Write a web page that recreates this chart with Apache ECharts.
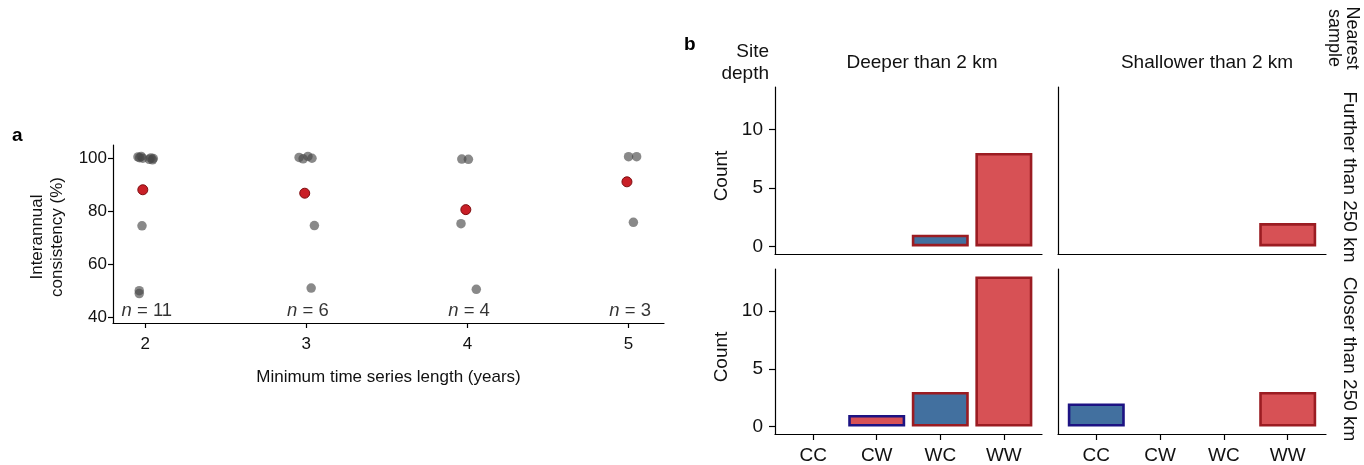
<!DOCTYPE html>
<html>
<head>
<meta charset="utf-8">
<script src="https://cdn.jsdelivr.net/npm/echarts@6/dist/echarts.min.js"></script>
<style>
html,body{margin:0;padding:0;background:#fff;}
#chart{width:1364px;height:465px;}
</style>
</head>
<body>
<div id="chart"></div>
<script>
// ---------- Panel a data ----------
const xTicksA = [2, 3, 4, 5];
const yTicksA = [40, 60, 80, 100];
const greyPoints = [
  [1.955, 100.4], [1.965, 100.1], [1.975, 100.6], [1.985, 99.9],
  [2.025, 99.5], [2.035, 100.0], [2.045, 99.3], [2.05, 99.8],
  [1.98, 74.4], [1.963, 49.9], [1.963, 48.8],
  [2.955, 100.2], [2.98, 99.7], [3.01, 100.6], [3.035, 99.9],
  [3.05, 74.5], [3.03, 50.9],
  [3.965, 99.6], [4.006, 99.5], [3.96, 75.2], [4.055, 50.4],
  [5.0, 100.5], [5.05, 100.5], [5.03, 75.7]
];
const meanPoints = [[1.985, 88.0], [2.99, 86.7], [3.99, 80.5], [4.99, 91.0]];
const nCounts = [11, 6, 4, 3];

// ---------- Panel b data ----------
const categories = ['CC', 'CW', 'WC', 'WW'];
const deeperFurther = [0, 0, 1, 8];
const shallowerFurther = [0, 0, 0, 2];
const deeperCloser = [0, 1, 3, 13];
const shallowerCloser = [2, 0, 0, 3];
const yTicksB = [0, 5, 10];

const FONT = "'Liberation Sans', Arial, Helvetica, sans-serif";
const RED_FILL = '#d75155', RED_EDGE = '#9b1c22';
const BLUE_FILL = '#42709f', BLUE_EDGE = '#1d1383';

function barData(counts) {
  const out = [];
  categories.forEach((c, i) => {
    if (counts[i] > 0) {
      out.push({
        value: [i, counts[i]],
        itemStyle: {
          color: c[1] === 'W' ? RED_FILL : BLUE_FILL,
          borderColor: c[0] === 'W' ? RED_EDGE : BLUE_EDGE
        }
      });
    }
  });
  return out;
}

const axisLine = { show: true, onZero: false, lineStyle: { color: '#000', width: 1.2 } };

const chart = echarts.init(document.getElementById('chart'), null, { renderer: 'canvas' });

const grids = [
  { left: 113, top: 145, width: 551, height: 178 },
  { left: 775, top: 87, width: 267, height: 167 },
  { left: 1058, top: 87, width: 268, height: 167 },
  { left: 775, top: 269, width: 267, height: 167 },
  { left: 1058, top: 269, width: 268, height: 167 }
];

const bX = { type: 'value', min: -0.6, max: 3.6, splitLine: { show: false }, axisLine: axisLine };
const bY = { type: 'value', min: -0.65, max: 13.65, splitLine: { show: false }, axisLine: axisLine };
const catTick = { show: true, length: 6, customValues: [0, 1, 2, 3], lineStyle: { color: '#000', width: 1.2 } };
const catLabel = { customValues: [0, 1, 2, 3], formatter: v => categories[Math.round(v)], fontSize: 19, color: '#111', margin: 12, fontFamily: FONT };
const countTick = { show: true, length: 6, customValues: yTicksB, lineStyle: { color: '#000', width: 1.2 } };
const countLabel = { customValues: yTicksB, fontSize: 19, color: '#111', margin: 12, fontFamily: FONT };

const option = {
  animation: false,
  backgroundColor: '#fff',
  textStyle: { fontFamily: FONT },
  grid: grids,
  xAxis: [
    {
      gridIndex: 0, type: 'value', min: 1.8, max: 5.22,
      splitLine: { show: false }, axisLine: axisLine,
      axisTick: { show: true, length: 5, customValues: xTicksA, lineStyle: { color: '#000', width: 1.2 } },
      axisLabel: { customValues: xTicksA, fontSize: 17, color: '#111', margin: 13, fontFamily: FONT },
      name: 'Minimum time series length (years)', nameLocation: 'middle', nameGap: 46,
      nameTextStyle: { fontSize: 17, color: '#111', fontFamily: FONT }
    },
    Object.assign({ gridIndex: 1, axisTick: { show: false }, axisLabel: { show: false } }, bX),
    Object.assign({ gridIndex: 2, axisTick: { show: false }, axisLabel: { show: false } }, bX),
    Object.assign({ gridIndex: 3, axisTick: catTick, axisLabel: catLabel }, bX),
    Object.assign({ gridIndex: 4, axisTick: catTick, axisLabel: catLabel }, bX)
  ],
  yAxis: [
    {
      gridIndex: 0, type: 'value', min: 37.7, max: 104.9,
      splitLine: { show: false }, axisLine: axisLine,
      axisTick: { show: true, length: 5, customValues: yTicksA, lineStyle: { color: '#000', width: 1.2 } },
      axisLabel: { customValues: yTicksA, fontSize: 17, color: '#111', margin: 6, fontFamily: FONT }
    },
    Object.assign({ gridIndex: 1, axisTick: countTick, axisLabel: countLabel }, bY),
    Object.assign({ gridIndex: 2, axisTick: { show: false }, axisLabel: { show: false } }, bY),
    Object.assign({ gridIndex: 3, axisTick: countTick, axisLabel: countLabel }, bY),
    Object.assign({ gridIndex: 4, axisTick: { show: false }, axisLabel: { show: false } }, bY)
  ],
  series: [
    {
      type: 'scatter', xAxisIndex: 0, yAxisIndex: 0, data: greyPoints,
      symbolSize: 9.5, itemStyle: { color: 'rgba(70,70,70,0.64)', opacity: 1 }, z: 2
    },
    {
      type: 'scatter', xAxisIndex: 0, yAxisIndex: 0, data: meanPoints,
      symbolSize: 10, itemStyle: { color: '#c91f27', borderColor: '#7d0d10', borderWidth: 1, opacity: 1 }, z: 3
    },
    {
      type: 'scatter', xAxisIndex: 0, yAxisIndex: 0,
      data: xTicksA.map(x => [x + 0.01, 42.3]),
      symbolSize: 0, silent: true,
      label: {
        show: true, position: 'inside',
        formatter: p => '{i|n} = ' + nCounts[p.dataIndex],
        fontSize: 18.5, color: '#000', fontFamily: FONT,
        rich: { i: { fontStyle: 'italic', fontSize: 18.5, color: '#000', fontFamily: FONT } }
      }
    },
    { type: 'bar', xAxisIndex: 1, yAxisIndex: 1, data: barData(deeperFurther), barWidth: 57, itemStyle: { borderWidth: 2.6 } },
    { type: 'bar', xAxisIndex: 2, yAxisIndex: 2, data: barData(shallowerFurther), barWidth: 57, itemStyle: { borderWidth: 2.6 } },
    { type: 'bar', xAxisIndex: 3, yAxisIndex: 3, data: barData(deeperCloser), barWidth: 57, itemStyle: { borderWidth: 2.6 } },
    { type: 'bar', xAxisIndex: 4, yAxisIndex: 4, data: barData(shallowerCloser), barWidth: 57, itemStyle: { borderWidth: 2.6 } }
  ],
  graphic: [
    { type: 'text', x: 12, y: 126, style: { text: 'a', font: 'bold 19px ' + FONT, fill: '#000' } },
    { type: 'text', x: 684, y: 35, style: { text: 'b', font: 'bold 19px ' + FONT, fill: '#000' } },
    { type: 'text', x: 47, y: 237, rotation: Math.PI / 2, style: { text: 'Interannual\nconsistency (%)', font: '17px ' + FONT, fill: '#111', align: 'center', verticalAlign: 'middle', lineHeight: 20 } },
    { type: 'text', x: 769, y: 63, style: { text: 'Site\ndepth', font: '19px ' + FONT, fill: '#111', align: 'right', verticalAlign: 'middle', lineHeight: 22 } },
    { type: 'text', x: 922, y: 63, style: { text: 'Deeper than 2 km', font: '19px ' + FONT, fill: '#111', align: 'center', verticalAlign: 'middle' } },
    { type: 'text', x: 1207, y: 63, style: { text: 'Shallower than 2 km', font: '19px ' + FONT, fill: '#111', align: 'center', verticalAlign: 'middle' } },
    { type: 'text', x: 722, y: 176, rotation: Math.PI / 2, style: { text: 'Count', font: '19px ' + FONT, fill: '#111', align: 'center', verticalAlign: 'middle' } },
    { type: 'text', x: 722, y: 357, rotation: Math.PI / 2, style: { text: 'Count', font: '19px ' + FONT, fill: '#111', align: 'center', verticalAlign: 'middle' } },
    { type: 'text', x: 1343, y: 38, rotation: -Math.PI / 2, style: { text: 'Nearest\nsample', font: '18px ' + FONT, fill: '#111', align: 'center', verticalAlign: 'middle', lineHeight: 18 } },
    { type: 'text', x: 1349, y: 177, rotation: -Math.PI / 2, style: { text: 'Further than 250 km', font: '19px ' + FONT, fill: '#111', align: 'center', verticalAlign: 'middle' } },
    { type: 'text', x: 1349, y: 359, rotation: -Math.PI / 2, style: { text: 'Closer than 250 km', font: '19px ' + FONT, fill: '#111', align: 'center', verticalAlign: 'middle' } }
  ]
};
chart.setOption(option);
</script>
</body>
</html>
